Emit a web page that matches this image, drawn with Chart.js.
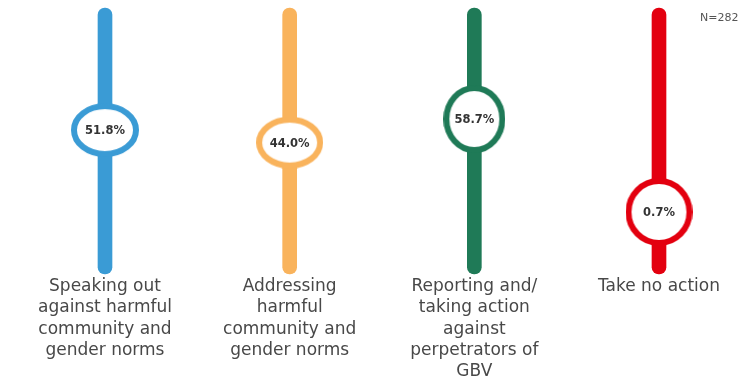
<!DOCTYPE html>
<html>
<head>
<meta charset="utf-8">
<script src="https://cdn.jsdelivr.net/npm/chart.js@4.4.1/dist/chart.umd.min.js"></script>
<style>
  html, body { margin: 0; padding: 0; background: #ffffff; overflow: hidden; }
  #wrap { position: relative; width: 743px; height: 378px; }
  #note { position: absolute; left: 700px; top: 11px; font: 11px "DejaVu Sans", sans-serif; color: #555; white-space: nowrap; }
</style>
</head>
<body>
<div id="wrap">
  <canvas id="c" width="743" height="378"></canvas>
  <div id="note">N=282</div>
</div>
<script>
// ---- data ----
const categories = [
  ["Speaking out", "against harmful", "community and", "gender norms"],
  ["Addressing", "harmful", "community and", "gender norms"],
  ["Reporting and/", "taking action", "against", "perpetrators of", "GBV"],
  ["Take no action"]
];
const percentages = [51.8, 44.0, 58.7, 0.7];
const percentLabels = ["51.8%", "44.0%", "58.7%", "0.7%"];
const colors = ["#3a9bd5", "#f9b35c", "#1f7a57", "#e3000f"];

// hidden value axis range (track spans the full axis)
const axisMin = -38, axisMax = 128;

function makeRing(color, w, h, lw) {
  const cv = document.createElement('canvas');
  cv.width = w; cv.height = h;
  const g = cv.getContext('2d');
  g.beginPath();
  g.ellipse(w / 2, h / 2, w / 2 - lw / 2, h / 2 - lw / 2, 0, 0, Math.PI * 2);
  g.fillStyle = '#ffffff';
  g.fill();
  g.lineWidth = lw;
  g.strokeStyle = color;
  g.stroke();
  return cv;
}
const ringSizes = [[68, 54], [67, 52], [62, 68], [67, 68]];
const rings = colors.map((c, i) => makeRing(c, ringSizes[i][0], ringSizes[i][1], 6));

const labelPlugin = {
  id: 'ringLabels',
  afterDatasetsDraw(chart) {
    const meta = chart.getDatasetMeta(1);
    const ctx = chart.ctx;
    ctx.save();
    ctx.font = 'bold 11.5px "DejaVu Sans", sans-serif';
    ctx.fillStyle = '#333333';
    ctx.textAlign = 'center';
    ctx.textBaseline = 'middle';
    meta.data.forEach((pt, i) => {
      ctx.fillText(percentLabels[i], pt.x, pt.y + 1);
    });
    ctx.restore();
  }
};

new Chart(document.getElementById('c'), {
  data: {
    labels: categories,
    datasets: [
      {
        type: 'bar',
        data: categories.map(() => [axisMin, axisMax]),
        backgroundColor: colors,
        barThickness: 14,
        borderRadius: 7,
        borderSkipped: false,
        clip: false,
        order: 2
      },
      {
        type: 'line',
        data: percentages,
        showLine: false,
        pointStyle: rings,
        pointRadius: 30,
        pointHoverRadius: 30,
        clip: false,
        order: 1
      }
    ]
  },
  options: {
    responsive: false,
    animation: false,
    events: [],
    layout: { autoPadding: false, padding: { left: 105, right: 84, top: 8, bottom: 0 } },
    plugins: { legend: { display: false }, tooltip: { enabled: false } },
    scales: {
      x: {
        offset: false,
        grid: { display: false, drawTicks: false, tickLength: 0 },
        border: { display: false },
        afterFit(axis) { axis.height = 104; },
        ticks: {
          autoSkip: false,
          maxRotation: 0,
          padding: 2,
          color: '#484848',
          font: { family: '"DejaVu Sans", sans-serif', size: 17, lineHeight: 1.25 }
        }
      },
      y: {
        display: false,
        min: axisMin,
        max: axisMax
      }
    }
  },
  plugins: [labelPlugin]
});
</script>
</body>
</html>
